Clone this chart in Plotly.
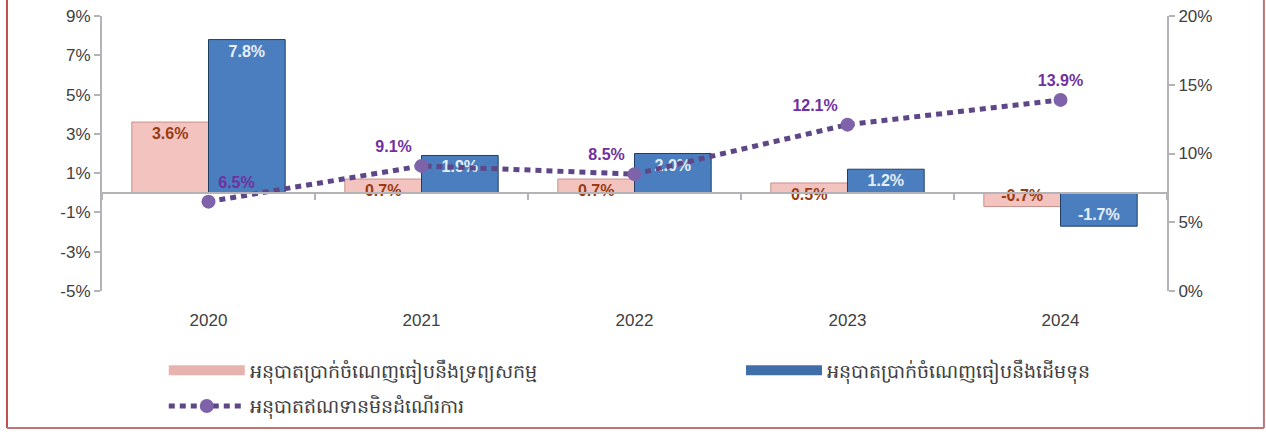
import plotly.graph_objects as go

years = ["2020", "2021", "2022", "2023", "2024"]
# ratio of profit to assets / to equity / non-performing loans ratio
roa = [3.6, 0.7, 0.7, 0.5, -0.7]
roe = [7.8, 1.9, 2.0, 1.2, -1.7]
npl = [6.5, 9.1, 8.5, 12.1, 13.9]

left_ticks = [-5, -3, -1, 1, 3, 5, 7, 9]
right_ticks = [0, 5, 10, 15, 20]

name_roa = "អនុបាតប្រាក់ចំណេញធៀបនឹងទ្រព្យសកម្ម"
name_roe = "អនុបាតប្រាក់ចំណេញធៀបនឹងដើមទុន"
name_npl = "អនុបាតឥណទានមិនដំណើរការ"

pink = "#F2C3BF"
blue = "#4A7EBF"

fig = go.Figure()

fig.add_trace(go.Bar(
    x=years, y=roa, name=name_roa, showlegend=False,
    marker=dict(color=pink, line=dict(color="#C9908B", width=1)),
    text=[f"<b>{v:.1f}%</b>" for v in roa],
    textposition="inside", insidetextanchor="end", constraintext="none",
    textfont=dict(color="#9A3B12", size=16, family="Liberation Sans"),
))
fig.add_trace(go.Bar(
    x=years, y=roe, name=name_roe, showlegend=False,
    marker=dict(color=blue, line=dict(color="#1F3F66", width=1)),
    text=[f"<b>{v:.1f}%</b>" for v in roe],
    textposition="inside", insidetextanchor="end", constraintext="none",
    textfont=dict(color="#E6EEF8", size=16, family="Liberation Sans"),
))
fig.add_trace(go.Scatter(
    x=years, y=npl, name=name_npl, yaxis="y2", showlegend=False,
    mode="lines+markers+text",
    line=dict(color="#5D4787", width=5, dash="6px,5px"),
    marker=dict(color="#7F63AA", size=14),
    text=[f"<b>{v:.1f}%</b>" for v in npl],
    textposition=["top right", "top left", "top left", "top left", "top center"],
    textfont=dict(color="#7030A0", size=16, family="Liberation Sans"),
))

# legend entries with wide bar-like swatches
fig.add_trace(go.Scatter(x=[None], y=[None], name=name_roa, mode="lines",
                         legendgroup="a", line=dict(color="#E8B2AE", width=15)))
fig.add_trace(go.Scatter(x=[None], y=[None], name=name_roe, mode="lines",
                         legend="legend2", line=dict(color="#3F6FA8", width=15)))
fig.add_trace(go.Scatter(x=[None], y=[None], name=name_npl, mode="lines+markers",
                         legendgroup="b",
                         line=dict(color="#5D4787", width=5, dash="6px,5px"),
                         marker=dict(color="#7F63AA", size=14)))

# helper axis drawn along zero line with boundary ticks
fig.add_trace(go.Scatter(x=years, y=[0] * 5, xaxis="x2", mode="none",
                         showlegend=False, hoverinfo="skip"))

legend_font = dict(size=19, color="#404040")

fig.update_layout(
    width=1266, height=432,
    margin=dict(l=102, r=99, t=16, b=141, autoexpand=False),
    paper_bgcolor="white", plot_bgcolor="white",
    barmode="group", bargap=0.28, bargroupgap=0,
    font=dict(family="Liberation Sans", color="#404040", size=17),
    xaxis=dict(type="category", categoryarray=years, range=[-0.5, 4.5],
               showline=False, showgrid=False, zeroline=False,
               ticks="outside", ticklen=14, tickcolor="rgba(0,0,0,0)",
               tickfont=dict(size=17, color="#404040")),
    xaxis2=dict(type="category", categoryarray=years, range=[-0.5, 4.5],
                overlaying="x", anchor="free", position=5 / 14, side="bottom",
                showline=True, linecolor="#B4B4B8", linewidth=2,
                ticks="outside", tickson="boundaries", ticklen=6,
                tickcolor="#B4B4B8", tickwidth=2,
                showticklabels=False, showgrid=False, zeroline=False),
    yaxis=dict(range=[-5, 9], tickvals=left_ticks,
               ticktext=[f"{v}%" for v in left_ticks],
               showgrid=False, zeroline=False,
               showline=True, linecolor="#B4B4B8", linewidth=2,
               ticks="outside", ticklen=6, tickcolor="#B4B4B8", tickwidth=2,
               tickfont=dict(size=17, color="#404040")),
    yaxis2=dict(range=[0, 20], tickvals=right_ticks,
                ticktext=[f"{v}%" for v in right_ticks],
                overlaying="y", side="right", showgrid=False, zeroline=False,
                showline=True, linecolor="#B4B4B8", linewidth=2,
                ticks="outside", ticklen=6, tickcolor="#B4B4B8", tickwidth=2,
                tickfont=dict(size=17, color="#404040")),
    legend=dict(orientation="v", x=0.058, y=-0.22, xanchor="left", yanchor="top",
                itemwidth=76, traceorder="grouped", tracegroupgap=8,
                bgcolor="rgba(0,0,0,0)", font=legend_font),
    legend2=dict(orientation="v", x=0.6, y=-0.22, xanchor="left", yanchor="top",
                 itemwidth=76, bgcolor="rgba(0,0,0,0)", font=legend_font),
    shapes=[
        dict(type="line", xref="paper", yref="paper", x0=-0.0892, x1=-0.0892,
             y0=-0.498, y1=1.08, line=dict(color="#C0504D", width=2)),
        dict(type="line", xref="paper", yref="paper", x0=1.091, x1=1.091,
             y0=-0.498, y1=1.08, line=dict(color="#C07575", width=2)),
        dict(type="line", xref="paper", yref="paper", x0=-0.0892, x1=1.091,
             y0=-0.498, y1=-0.498, line=dict(color="#C07575", width=2)),
    ],
)

fig.write_html("out.html", config={"displayModeBar": False},
               post_script="document.body.style.margin='0';")
